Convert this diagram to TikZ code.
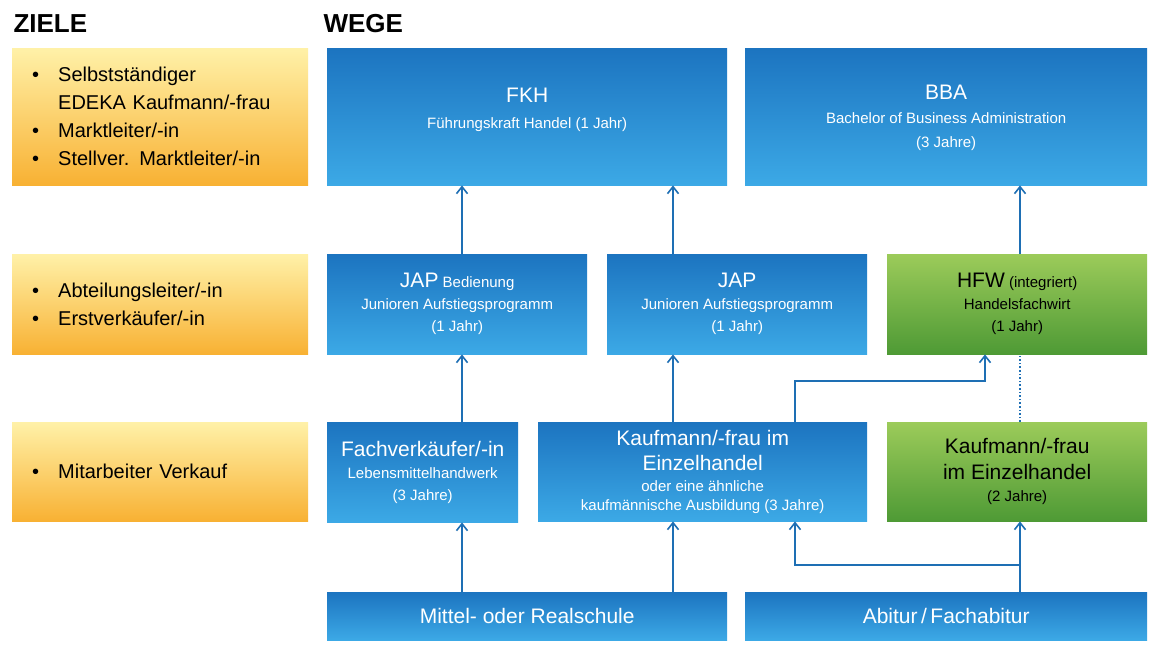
\documentclass[tikz,border=0pt]{standalone}
\usepackage{fontspec}
\setmainfont{Liberation Sans}
\usetikzlibrary{arrows.meta}
\definecolor{bluetop}{HTML}{1C74C0}
\definecolor{bluebot}{HTML}{3CA9E6}
\definecolor{greentop}{HTML}{9CCB5A}
\definecolor{greenbot}{HTML}{4E9A35}
\definecolor{yeltop}{HTML}{FFF1A8}
\definecolor{yelbot}{HTML}{F8B133}
\definecolor{arrowblue}{HTML}{1E6FB4}
\tikzset{
  box/.style={anchor=north west,inner sep=2pt,align=center,text=white,font=\fontsize{15}{22}\selectfont},
  weg/.style={box,top color=bluetop,bottom color=bluebot},
  hfw/.style={box,top color=greentop,bottom color=greenbot,text=black},
  ziel/.style={anchor=north west,inner sep=0pt,top color=yeltop,bottom color=yelbot,text width=296pt,minimum width=296pt,align=left,font=\fontsize{20}{28}\selectfont},
  head/.style={anchor=west,font=\fontsize{26}{30}\selectfont\bfseries},
  arr/.style={draw=arrowblue,line width=1.6pt,-{Straight Barb[length=7pt,width=11pt]}},
  big/.style={font=\fontsize{21}{25}\selectfont}
}
\newcommand{\bx}[1]{{\fontsize{21}{26}\selectfont #1}}
\newcommand{\pt}[1]{\hspace*{20pt}\makebox[26pt][l]{\textbullet}#1}
\begin{document}
\begin{tikzpicture}[x=1pt,y=-1pt]
\useasboundingbox[fill=white] (0,0) rectangle (1160,650);
% Ueberschriften
\node[head] (ziele) at (10,24) {ZIELE};
\node[head] (wege) at (320,24) {WEGE};
% Ziele
\node[ziel,minimum height=137pt] (z1) at (12,48) {\pt{Selbstständiger}\\\hspace*{46pt}EDEKA Kaufmann/-frau\\\pt{Marktleiter/-in}\\\pt{Stellver. Marktleiter/-in}};
\node[ziel,minimum height=100pt] (z2) at (12,254) {\pt{Abteilungsleiter/-in}\\\pt{Erstverkäufer/-in}};
\node[ziel,minimum height=99pt] (z3) at (12,422) {\pt{Mitarbeiter Verkauf}};
% obere Reihe
\node[weg,minimum width=400pt,minimum height=137pt] (fkh) at (327,48) {\bx{FKH}\\[4pt]Führungskraft Handel (1 Jahr)\\[-6pt]};
\node[weg,minimum width=402pt,minimum height=137pt] (bba) at (745,48) {\bx{BBA}\\[2pt]Bachelor of Business Administration\\[2pt](3 Jahre)\\[-22pt]};
% mittlere Reihe
\node[weg,minimum width=260pt,minimum height=100pt] (jb) at (327,254) {\bx{JAP} Bedienung\\Junioren Aufstiegsprogramm\\(1 Jahr)};
\node[weg,minimum width=260pt,minimum height=100pt] (jap) at (607,254) {\bx{JAP}\\Junioren Aufstiegsprogramm\\(1 Jahr)};
\node[hfw,minimum width=260pt,minimum height=100pt] (hfw) at (887,254) {\bx{HFW} (integriert)\\Handelsfachwirt\\(1 Jahr)};
% untere Reihe
\node[weg,minimum width=191pt,minimum height=100pt] (fv) at (327,422) {\bx{Fachverkäufer/-in}\\Lebensmittelhandwerk\\(3 Jahre)};
\node[weg,minimum width=329pt,minimum height=99pt,font=\fontsize{15}{19}\selectfont] (ke) at (538,422) {\bx{Kaufmann/-frau im}\\[6pt]\bx{Einzelhandel}\\[2pt]oder eine ähnliche\\kaufmännische Ausbildung (3 Jahre)};
\node[hfw,minimum width=260pt,minimum height=99pt,font=\fontsize{15}{20}\selectfont] (kg) at (887,422) {\bx{Kaufmann/-frau}\\[6pt]\bx{im Einzelhandel}\\[2pt](2 Jahre)};
% Schulabschluss
\node[weg,big,minimum width=400pt,minimum height=48pt] (ms) at (327,592) {Mittel- oder Realschule};
\node[weg,big,minimum width=402pt,minimum height=48pt] (abi) at (745,592) {Abitur\,/\,Fachabitur};
% Pfeile
\draw[arr] (ms.north -| 462,0) -- (fv.south -| 462,0);
\draw[arr] (ms.north -| 673,0) -- (ke.south -| 673,0);
\draw[arr] (abi.north -| 1020,0) -- (kg.south -| 1020,0);
\draw[arr] (abi.north -| 1020,0) -- (1020,565) -| (ke.south -| 795,0);
\draw[arr] (fv.north -| 462,0) -- (jb.south -| 462,0);
\draw[arr] (ke.north -| 673,0) -- (jap.south -| 673,0);
\draw[arr] (ke.north -| 795,0) |- (985,381) -- (hfw.south -| 985,0);
\draw[arrowblue,line width=1.6pt,dotted] (kg.north -| 1020,0) -- (hfw.south -| 1020,0);
\draw[arr] (jb.north -| 462,0) -- (fkh.south -| 462,0);
\draw[arr] (jap.north -| 673,0) -- (fkh.south -| 673,0);
\draw[arr] (hfw.north -| 1020,0) -- (bba.south -| 1020,0);
\end{tikzpicture}
\end{document}
